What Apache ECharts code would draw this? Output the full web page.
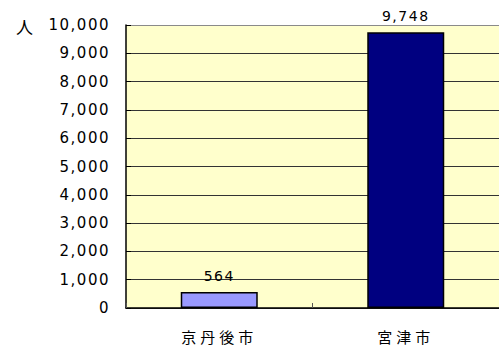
<!DOCTYPE html>
<html>
<head>
<meta charset="utf-8">
<script src="https://cdn.jsdelivr.net/npm/echarts@6/dist/echarts.min.js"></script>
<style>
  html, body { margin: 0; padding: 0; background: #fff; }
  #chart { width: 499px; height: 347px; }
  /* wider tracking for the axis and value text */
  #chart text[style*="DejaVu"] { letter-spacing: 1.5px; }
  #chart text[style*="Noto Sans CJK"] { letter-spacing: 4px; }
</style>
</head>
<body>
<div id="chart"></div>
<script>
// Population by city (persons)
const cities = ['京丹後市', '宮津市'];
const population = [564, 9748];
const barColors = ['#9999FF', '#000080'];
const yTicks = { min: 0, max: 10000, step: 1000 };
const unitLabel = '人';

const numFont = 'DejaVu Sans';
const cjkFont = 'Noto Sans CJK JP';

const fmt = v => v.toLocaleString('en-US');

// grid lines: darker inner lines, lighter top edge
const gridColors = [];
for (let v = yTicks.min; v <= yTicks.max; v += yTicks.step) {
  gridColors.push(v === yTicks.max ? '#8a8a8a' : '#333333');
}

const chart = echarts.init(document.getElementById('chart'), null, { renderer: 'svg' });
chart.setOption({
  animation: false,
  backgroundColor: '#ffffff',
  title: {
    text: unitLabel,
    left: 11,
    top: 13,
    textStyle: { fontFamily: cjkFont, fontSize: 17, fontWeight: 'normal', color: '#000' }
  },
  grid: {
    left: 126, top: 25, right: -3, bottom: 39,
    show: true,
    backgroundColor: '#FFFFCC',
    borderWidth: 0
  },
  xAxis: {
    type: 'category',
    data: cities,
    axisLine: { lineStyle: { color: '#000', width: 1.5 } },
    axisTick: { show: true, inside: true, length: 5, lineStyle: { color: '#555' } },
    axisLabel: { margin: 21, fontFamily: cjkFont, fontSize: 15, color: '#000' }
  },
  yAxis: {
    type: 'value',
    min: yTicks.min, max: yTicks.max, interval: yTicks.step,
    axisLine: { show: true, lineStyle: { color: '#000', width: 1.5 } },
    axisTick: { show: true, inside: true, length: 5, lineStyle: { color: '#000' } },
    axisLabel: {
      margin: 16, fontFamily: numFont, fontSize: 15, color: '#000',
      formatter: v => fmt(v)
    },
    splitLine: { show: true, lineStyle: { color: gridColors, width: 1 } }
  },
  series: [{
    type: 'bar',
    barWidth: 77,
    data: population.map((v, i) => ({
      value: v,
      itemStyle: { color: barColors[i], borderColor: '#000', borderWidth: 1.5 }
    })),
    label: {
      show: true, position: 'top', distance: 9,
      fontFamily: numFont, fontSize: 14, color: '#000',
      formatter: p => fmt(p.value)
    }
  }]
});
</script>
</body>
</html>
